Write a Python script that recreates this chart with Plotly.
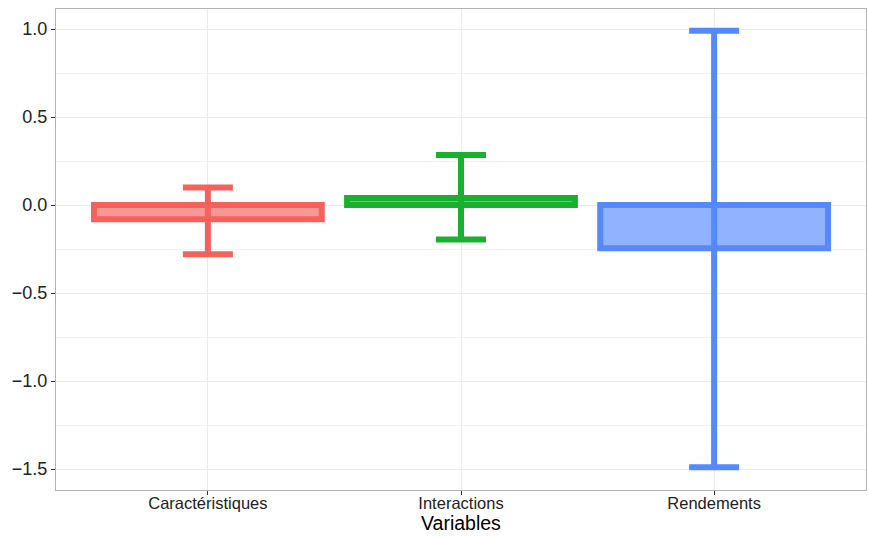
import plotly.graph_objects as go

# Estimated effects with their interval bounds
categories = ["Caractéristiques", "Interactions", "Rendements"]
estimates = [-0.08, 0.04, -0.245]
upper = [0.10, 0.285, 0.99]
lower = [-0.28, -0.195, -1.49]

line_colors = ["#F5625C", "#1AB02F", "#5589FF"]
fill_colors = ["rgba(245,98,92,0.66)", "rgba(26,176,47,0.66)", "rgba(85,137,255,0.65)"]

err_plus = [u - e for u, e in zip(upper, estimates)]
err_minus = [e - l for e, l in zip(estimates, lower)]

fig = go.Figure()
for i, cat in enumerate(categories):
    fig.add_trace(go.Bar(
        x=[cat], y=[estimates[i]],
        width=0.9,
        marker=dict(color=fill_colors[i], line=dict(color=line_colors[i], width=6)),
        error_y=dict(type="data", symmetric=False,
                     array=[err_plus[i]], arrayminus=[err_minus[i]],
                     color=line_colors[i], thickness=6, width=25),
        showlegend=False,
    ))

axis_common = dict(
    showline=True, mirror=True, linecolor="#B3B3B3", linewidth=1,
    ticks="outside", ticklen=4, tickcolor="#333333",
    gridcolor="#EBEBEB", gridwidth=1, zeroline=False, automargin=False,
)

fig.update_layout(
    width=869, height=536,
    margin=dict(l=56, r=3, t=9, b=46),
    paper_bgcolor="white", plot_bgcolor="white",
    bargap=0.1,
    xaxis=dict(**axis_common, range=[-0.6, 2.6], ticklabelstandoff=-6,
               tickfont=dict(family="Liberation Sans", size=16.5, color="#222222")),
    yaxis=dict(**axis_common, range=[-1.619, 1.114], dtick=0.5, tickformat=".1f",
               tickfont=dict(family="Liberation Sans", size=18, color="#222222"),
               minor=dict(dtick=0.25, showgrid=True, gridcolor="#F3F3F3", gridwidth=1)),
    annotations=[dict(text="Variables", xref="paper", yref="paper",
                      x=0.5, y=-0.093, xanchor="center", yanchor="bottom",
                      showarrow=False, borderpad=0,
                      font=dict(family="Liberation Sans", size=19.5, color="#000000"))],
)

fig.write_html("out.html")
